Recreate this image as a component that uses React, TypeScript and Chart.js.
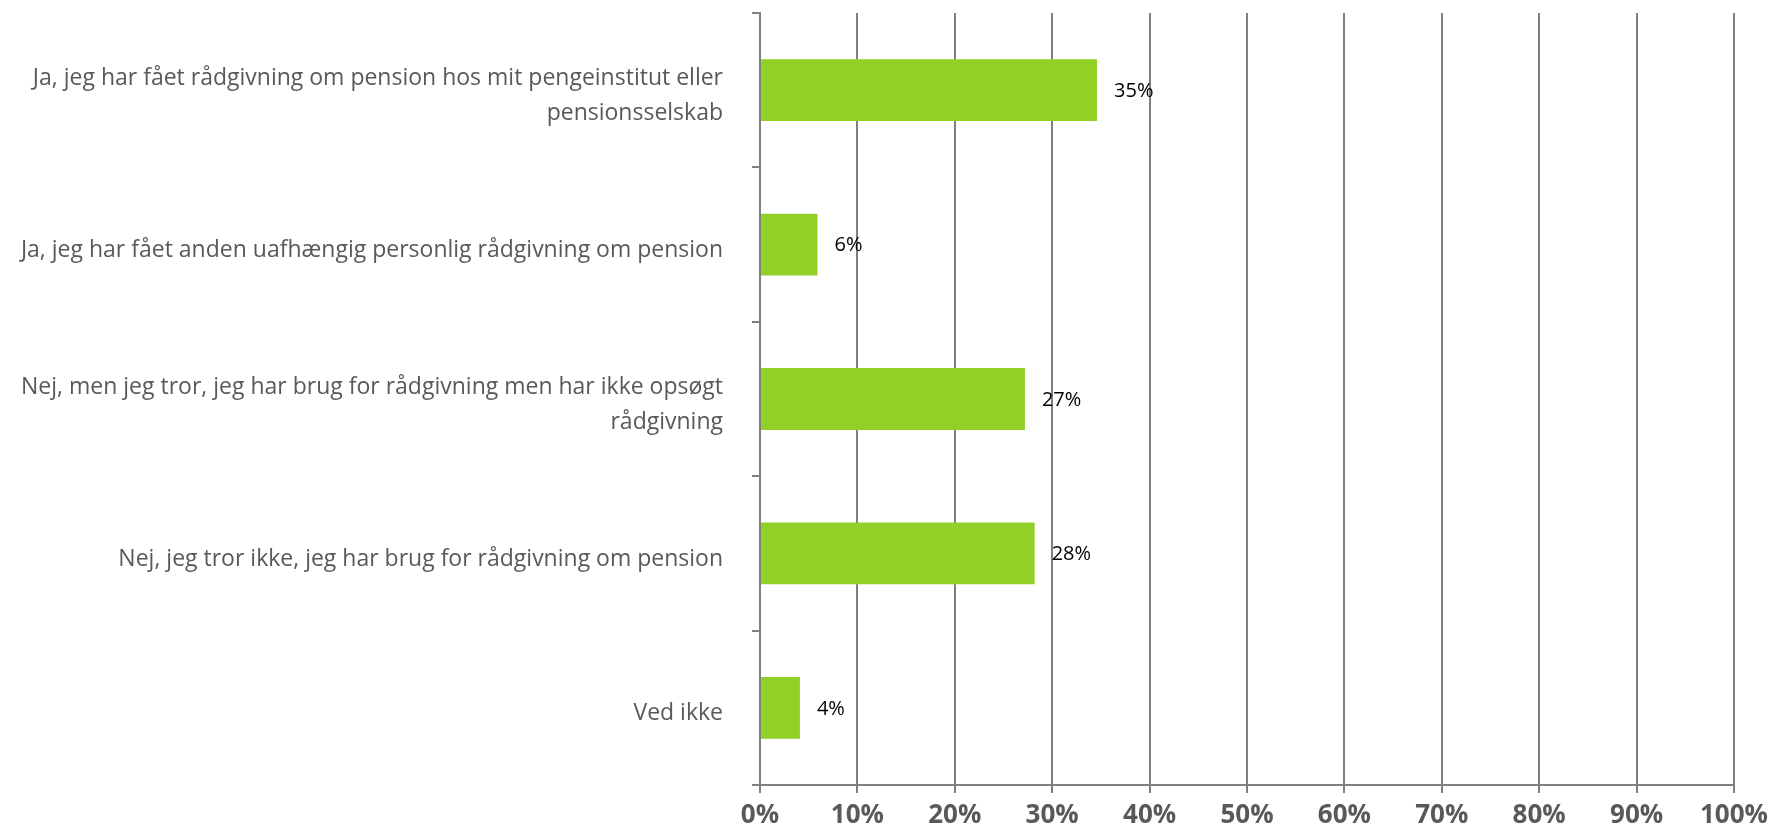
import React, { useEffect, useRef } from "react";
import { Chart, registerables } from "chart.js";

Chart.register(...registerables);

const categories: (string | string[])[] = [
  ["Ja, jeg har fået rådgivning om pension hos mit pengeinstitut eller", "pensionsselskab"],
  "Ja, jeg har fået anden uafhængig personlig rådgivning om pension",
  ["Nej, men jeg tror, jeg har brug for rådgivning men har ikke opsøgt", "rådgivning"],
  "Nej, jeg tror ikke, jeg har brug for rådgivning om pension",
  "Ved ikke",
];
const values: number[] = [34.6, 5.9, 27.2, 28.2, 4.1];
const valueLabels: string[] = ["35%", "6%", "27%", "28%", "4%"];
const xTicks: number[] = [0, 10, 20, 30, 40, 50, 60, 70, 80, 90, 100];

const GRID = "#808080";
const TEXT = "#595959";
const BAR = "#93D027";

const dataLabelPlugin = {
  id: "dataLabels",
  afterDatasetsDraw(chart: any) {
    const ctx = chart.ctx;
    const meta = chart.getDatasetMeta(0);
    ctx.save();
    ctx.fillStyle = "#000000";
    ctx.font = "20px 'Open Sans'";
    ctx.textAlign = "left";
    ctx.textBaseline = "middle";
    meta.data.forEach((el: any, i: number) => {
      ctx.fillText(valueLabels[i], el.x + 17, el.y + 1);
    });
    ctx.restore();
  },
};

export default function App() {
  const ref = useRef<HTMLCanvasElement | null>(null);
  useEffect(() => {
    document.body.style.margin = "0";
    const canvas = ref.current!;
    const chart = new Chart(canvas, {
      type: "bar",
      data: {
        labels: categories,
        datasets: [
          {
            data: values,
            backgroundColor: BAR,
            borderWidth: 0,
            barPercentage: 0.4,
            categoryPercentage: 1,
          },
        ],
      },
      options: {
        indexAxis: "y",
        animation: false,
        responsive: false,
        maintainAspectRatio: false,
        layout: { padding: { top: 13, right: 35, left: 0, bottom: 0 } },
        plugins: { legend: { display: false }, tooltip: { enabled: false } },
        scales: {
          x: {
            min: 0,
            max: 100,
            afterBuildTicks: (scale: any) => {
              scale.ticks = xTicks.map((v) => ({ value: v }));
            },
            afterFit: (scale: any) => {
              scale.height = 47;
              scale.paddingLeft = 0;
              scale.paddingRight = 0;
            },
            grid: {
              color: GRID,
              lineWidth: 2,
              tickLength: 8,
              drawTicks: true,
            },
            border: { color: GRID, width: 2 },
            ticks: {
              color: TEXT,
              font: { family: "'Open Sans'", size: 26, weight: "bold" },
              padding: 7,
              callback: (v: any) => v + "%",
            },
          },
          y: {
            afterFit: (scale: any) => {
              scale.width = 760;
              scale.paddingTop = 0;
              scale.paddingBottom = 0;
            },
            grid: {
              display: true,
              drawOnChartArea: false,
              color: GRID,
              lineWidth: 2,
              tickLength: 8,
              offset: true,
            },
            border: { color: GRID, width: 2 },
            ticks: {
              color: TEXT,
              font: { family: "'Open Sans'", size: 23, lineHeight: 1.52 },
              padding: 29,
              labelOffset: 6,
            },
          },
        },
      },
      plugins: [dataLabelPlugin],
    } as any);
    return () => chart.destroy();
  }, []);
  return (
    <div style={{ width: 1769, height: 832 }}>
      <canvas ref={ref} width={1769} height={832} style={{ display: "block" }} />
    </div>
  );
}
